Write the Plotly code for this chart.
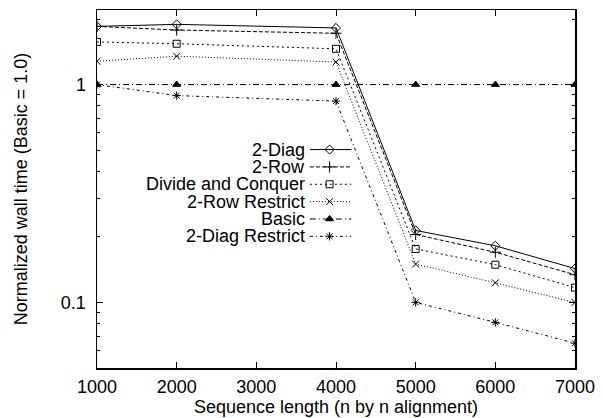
import plotly.graph_objects as go

x_vals = [1000, 2000, 4000, 5000, 6000, 7000]
series_names = ["2-Diag", "2-Row", "Divide and Conquer", "2-Row Restrict", "Basic", "2-Diag Restrict"]
diag2 = [1.85, 1.89, 1.82, 0.214, 0.182, 0.143]
row2 = [1.85, 1.78, 1.72, 0.205, 0.170, 0.134]
divconq = [1.57, 1.54, 1.46, 0.176, 0.149, 0.117]
row2_restrict = [1.28, 1.35, 1.27, 0.150, 0.123, 0.100]
basic = [1.0, 1.0, 1.0, 1.0, 1.0, 1.0]
diag2_restrict = [1.0, 0.89, 0.84, 0.100, 0.081, 0.065]
x_ticks = [1000, 2000, 3000, 4000, 5000, 6000, 7000]
y_major = [0.1, 1]
y_minor = [0.05, 0.06, 0.07, 0.08, 0.09, 0.2, 0.3, 0.4, 0.5, 0.6, 0.7, 0.8, 0.9, 2]

values = [diag2, row2, divconq, row2_restrict, basic, diag2_restrict]
symbols = ["diamond-open", "cross-thin-open", "square-open", "x-thin-open", "triangle-up", "asterisk-open"]
dashes = ["solid", "4px,2px", "2px,3px", "1px,2px", "6px,3px,1px,3px", "3px,3px,1px,3px"]
sizes = [7, 8, 7, 7, 7, 7]

FONT = "Liberation Sans, Arial, sans-serif"
FS = 18
W, H = 603, 418
L, R, T, B = 97, 582, 8, 371  # plot area in page pixels

fig = go.Figure()
for name, ys, sym, dash, sz in zip(series_names, values, symbols, dashes, sizes):
    fig.add_trace(go.Scatter(
        x=x_vals, y=ys, mode="lines+markers", name=name, showlegend=False,
        line=dict(color="black", width=1, dash=dash),
        marker=dict(symbol=sym, size=sz, color="black", line=dict(color="black", width=1)),
    ))

# manual gnuplot-style key (text left, sample right), in page-pixel overlay coords
key_text_right = 310
key_x0, key_x1 = 313, 355
key_y0, key_dy = 149.5, 17.6
for i, (name, sym, dash, sz) in enumerate(zip(series_names, symbols, dashes, sizes)):
    yy = key_y0 + i * key_dy
    fig.add_trace(go.Scatter(
        x=[key_x0, key_x1], y=[yy, yy],
        mode="lines", xaxis="x2", yaxis="y2", showlegend=False, hoverinfo="skip",
        line=dict(color="black", width=1, dash=dash),
    ))
    fig.add_trace(go.Scatter(
        x=[(key_x0 + key_x1) / 2 - 1], y=[yy],
        mode="markers", xaxis="x2", yaxis="y2", showlegend=False, hoverinfo="skip",
        marker=dict(symbol=sym, size=sz, color="black", line=dict(color="black", width=1)),
    ))
    fig.add_annotation(x=key_text_right, y=yy, xref="x2", yref="y2", text=name,
                       showarrow=False, xanchor="right", yanchor="middle",
                       font=dict(family=FONT, size=FS, color="black"))

fig.update_layout(
    width=W, height=H,
    margin=dict(l=L, r=W - R, t=T, b=H - B, pad=0),
    paper_bgcolor="white", plot_bgcolor="white",
    font=dict(family=FONT, size=FS, color="black"),
    xaxis=dict(
        range=[1000, 7000], tickvals=x_ticks, ticktext=[str(v) for v in x_ticks],
        ticks="inside", ticklen=6, tickcolor="black", tickwidth=1,
        showline=True, linecolor="black", linewidth=1.5, mirror="ticks",
        showgrid=False, zeroline=False,
        title=dict(text="Sequence length (n by n alignment)", standoff=0,
                   font=dict(family=FONT, size=FS)),
        tickfont=dict(family=FONT, size=FS),
        ticklabelstandoff=2,
    ),
    yaxis=dict(
        type="log", range=[-1.30103, 0.3424],
        tickvals=y_major, ticktext=["0.1", "1"],
        ticks="inside", ticklen=6, tickcolor="black", tickwidth=1,
        minor=dict(tickvals=y_minor, ticks="inside", ticklen=3, tickcolor="black", showgrid=False),
        showline=True, linecolor="black", linewidth=1.5, mirror="ticks",
        showgrid=False, zeroline=False,
        title=dict(text="Normalized wall time (Basic = 1.0)", standoff=28,
                   font=dict(family=FONT, size=FS)),
        tickfont=dict(family=FONT, size=FS),
        ticklabelstandoff=6,
    ),
    xaxis2=dict(range=[L, R], overlaying="x", visible=False, fixedrange=True),
    yaxis2=dict(range=[B, T], overlaying="y", visible=False, fixedrange=True),
)

fig.write_html(
    "out.html",
    config={"displayModeBar": False, "staticPlot": True},
    post_script="document.body.style.margin='0';document.body.style.padding='0';"
                "document.body.style.overflow='hidden';"
                "document.documentElement.style.overflow='hidden';",
)
